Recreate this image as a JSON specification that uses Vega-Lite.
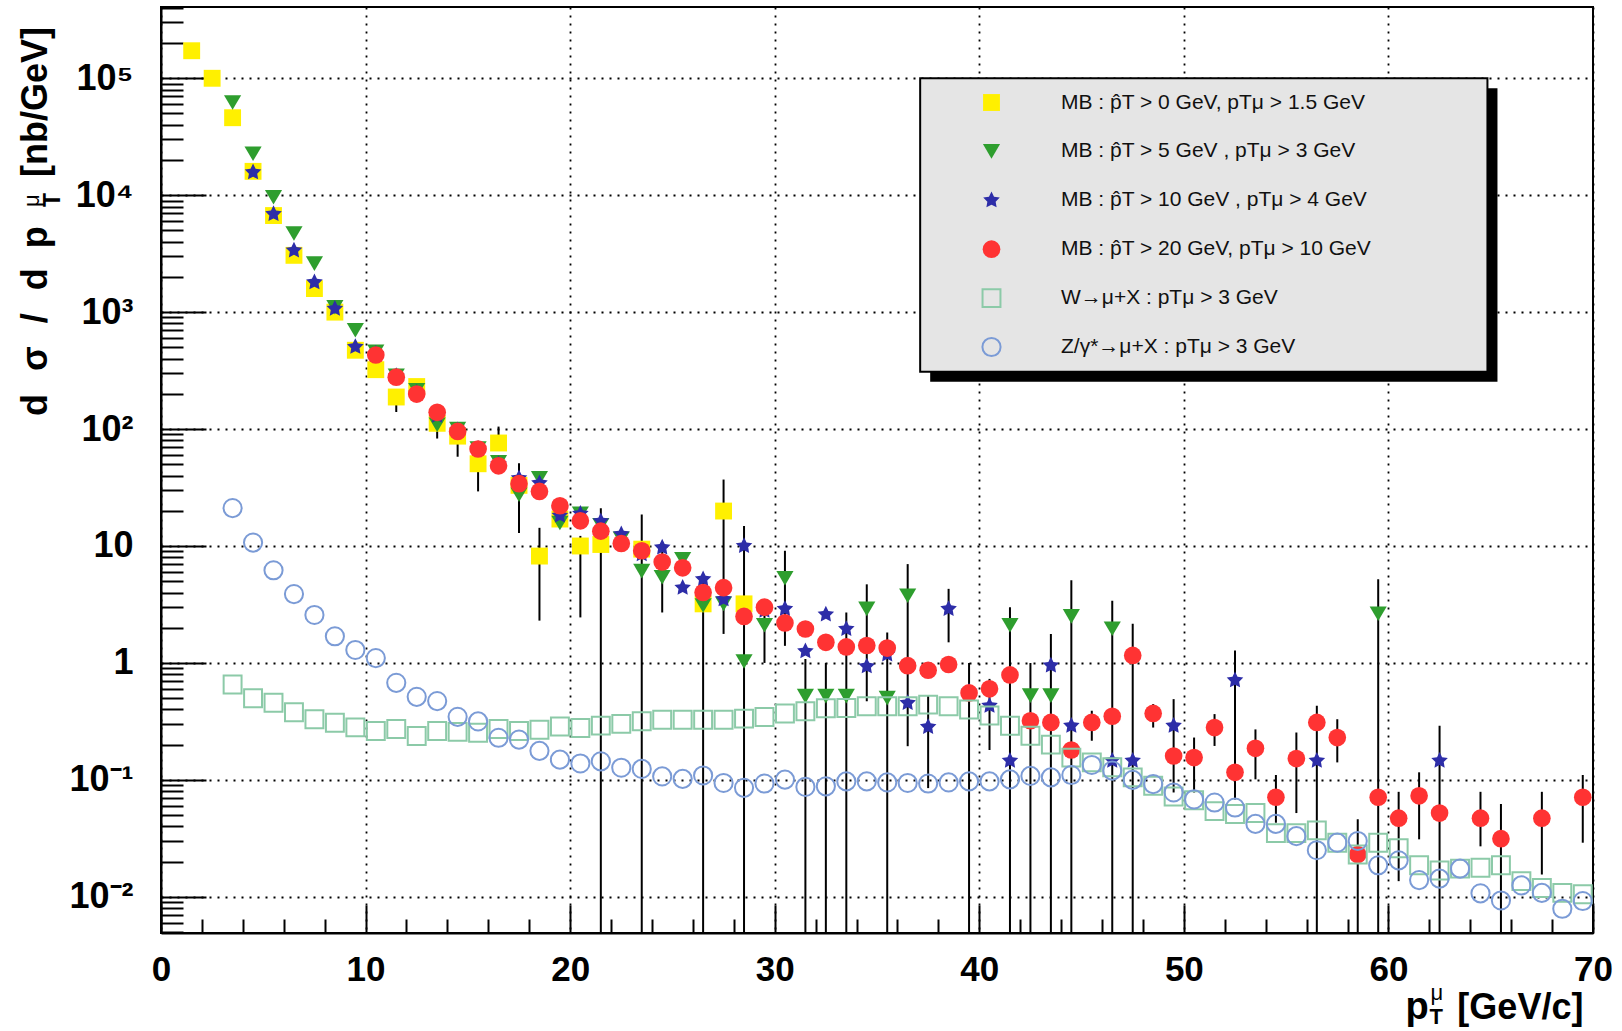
{
  "$schema": "https://vega.github.io/schema/vega-lite/v6.json",
  "width": 1432,
  "height": 926,
  "autosize": {"type": "none"},
  "padding": {"left": 161, "top": 7, "right": 29, "bottom": 98},
  "background": "white",
  "config": {
    "font": "Liberation Sans",
    "view": {"stroke": "black", "strokeWidth": 2},
    "legend": {"orient": "none", "legendX": 820, "legendY": 85, "padding": 0, "gridAlign": "all", "rowPadding": 21.9, "labelOffset": 59, "labelFont": "Liberation Sans", "labelFontSize": 21, "labelColor": "#111111", "labelLimit": 800, "symbolStrokeWidth": 2}
  },
  "datasets": {
    "pts": [
      {"s":"Y","x":1.5,"y":172000},{"s":"Y","x":2.5,"y":100000},{"s":"Y","x":3.5,"y":46000},{"s":"Y","x":4.5,"y":16000},{"s":"Y","x":5.5,"y":6700},{"s":"Y","x":6.5,"y":3060},{"s":"Y","x":7.5,"y":1590},{"s":"Y","x":8.5,"y":1000},{"s":"Y","x":9.5,"y":472},{"s":"Y","x":10.5,"y":322},{"s":"Y","x":11.5,"y":188},{"s":"Y","x":12.5,"y":231},{"s":"Y","x":13.5,"y":112},{"s":"Y","x":14.5,"y":87},{"s":"Y","x":15.5,"y":50.5},{"s":"Y","x":16.5,"y":76},{"s":"Y","x":17.5,"y":33},{"s":"Y","x":18.5,"y":8.2},{"s":"Y","x":19.5,"y":17},{"s":"Y","x":20.5,"y":10},{"s":"Y","x":21.5,"y":10.3},{"s":"Y","x":23.5,"y":9.4},{"s":"Y","x":26.5,"y":3.2},{"s":"Y","x":27.5,"y":19.9},{"s":"Y","x":28.5,"y":3.2},
      {"s":"G","x":3.5,"y":62000},{"s":"G","x":4.5,"y":22600},{"s":"G","x":5.5,"y":9600},{"s":"G","x":6.5,"y":4700},{"s":"G","x":7.5,"y":2600},{"s":"G","x":8.5,"y":1100},{"s":"G","x":9.5,"y":700},{"s":"G","x":10.5,"y":457},{"s":"G","x":11.5,"y":285},{"s":"G","x":12.5,"y":215},{"s":"G","x":13.5,"y":109},{"s":"G","x":14.5,"y":100},{"s":"G","x":15.5,"y":68},{"s":"G","x":16.5,"y":52},{"s":"G","x":17.5,"y":27.4},{"s":"G","x":18.5,"y":38},{"s":"G","x":19.5,"y":15.7},{"s":"G","x":20.5,"y":18.9},{"s":"G","x":21.5,"y":15},{"s":"G","x":22.5,"y":11.5},{"s":"G","x":23.5,"y":6.1},{"s":"G","x":24.5,"y":5.4},{"s":"G","x":25.5,"y":7.7},{"s":"G","x":26.5,"y":3.1},{"s":"G","x":27.5,"y":3.2},{"s":"G","x":28.5,"y":1.03},{"s":"G","x":29.5,"y":2.1},{"s":"G","x":30.5,"y":5.3},{"s":"G","x":31.5,"y":0.52},{"s":"G","x":32.5,"y":0.52},{"s":"G","x":33.5,"y":0.52},{"s":"G","x":34.5,"y":2.9},{"s":"G","x":35.5,"y":0.5},{"s":"G","x":36.5,"y":3.75},{"s":"G","x":41.5,"y":2.1},{"s":"G","x":42.5,"y":0.525},{"s":"G","x":43.5,"y":0.525},{"s":"G","x":44.5,"y":2.5},{"s":"G","x":46.5,"y":1.96},{"s":"G","x":59.5,"y":2.63},
      {"s":"S","x":4.5,"y":15700},{"s":"S","x":5.5,"y":6900},{"s":"S","x":6.5,"y":3370},{"s":"S","x":7.5,"y":1800},{"s":"S","x":8.5,"y":1070},{"s":"S","x":9.5,"y":505},{"s":"S","x":10.5,"y":440},{"s":"S","x":11.5,"y":285},{"s":"S","x":12.5,"y":205},{"s":"S","x":13.5,"y":130},{"s":"S","x":14.5,"y":98},{"s":"S","x":15.5,"y":68},{"s":"S","x":16.5,"y":50},{"s":"S","x":17.5,"y":38},{"s":"S","x":18.5,"y":34.5},{"s":"S","x":19.5,"y":18.2},{"s":"S","x":20.5,"y":18.9},{"s":"S","x":21.5,"y":16.3},{"s":"S","x":22.5,"y":12.6},{"s":"S","x":23.5,"y":8.5},{"s":"S","x":24.5,"y":9.7},{"s":"S","x":25.5,"y":4.4},{"s":"S","x":26.5,"y":5.2},{"s":"S","x":27.5,"y":3.5},{"s":"S","x":28.5,"y":10},{"s":"S","x":29.5,"y":2.8},{"s":"S","x":30.5,"y":2.9},{"s":"S","x":31.5,"y":1.26},{"s":"S","x":32.5,"y":2.6},{"s":"S","x":33.5,"y":1.95},{"s":"S","x":34.5,"y":0.935},{"s":"S","x":35.5,"y":1.18},{"s":"S","x":36.5,"y":0.455},{"s":"S","x":37.5,"y":0.284},{"s":"S","x":38.5,"y":2.9},{"s":"S","x":39.5,"y":0.57},{"s":"S","x":40.5,"y":0.43},{"s":"S","x":41.5,"y":0.146},{"s":"S","x":43.5,"y":0.95},{"s":"S","x":44.5,"y":0.29},{"s":"S","x":46.5,"y":0.146},{"s":"S","x":47.5,"y":0.146},{"s":"S","x":49.5,"y":0.29},{"s":"S","x":52.5,"y":0.71},{"s":"S","x":56.5,"y":0.146},{"s":"S","x":62.5,"y":0.146},
      {"s":"R","x":10.5,"y":430},{"s":"R","x":11.5,"y":278},{"s":"R","x":12.5,"y":199},{"s":"R","x":13.5,"y":139},{"s":"R","x":14.5,"y":95.5},{"s":"R","x":15.5,"y":67.5},{"s":"R","x":16.5,"y":48.5},{"s":"R","x":17.5,"y":34.1},{"s":"R","x":18.5,"y":29.3},{"s":"R","x":19.5,"y":22.1},{"s":"R","x":20.5,"y":16.4},{"s":"R","x":21.5,"y":13.4},{"s":"R","x":22.5,"y":10.5},{"s":"R","x":23.5,"y":9.1},{"s":"R","x":24.5,"y":7.3},{"s":"R","x":25.5,"y":6.5},{"s":"R","x":26.5,"y":4.0},{"s":"R","x":27.5,"y":4.4},{"s":"R","x":28.5,"y":2.5},{"s":"R","x":29.5,"y":3.0},{"s":"R","x":30.5,"y":2.2},{"s":"R","x":31.5,"y":1.95},{"s":"R","x":32.5,"y":1.5},{"s":"R","x":33.5,"y":1.37},{"s":"R","x":34.5,"y":1.41},{"s":"R","x":35.5,"y":1.34},{"s":"R","x":36.5,"y":0.948},{"s":"R","x":37.5,"y":0.865},{"s":"R","x":38.5,"y":0.97},{"s":"R","x":39.5,"y":0.554},{"s":"R","x":40.5,"y":0.6},{"s":"R","x":41.5,"y":0.79},{"s":"R","x":42.5,"y":0.32},{"s":"R","x":43.5,"y":0.31},{"s":"R","x":44.5,"y":0.18},{"s":"R","x":45.5,"y":0.31},{"s":"R","x":46.5,"y":0.35},{"s":"R","x":47.5,"y":1.16},{"s":"R","x":48.5,"y":0.37},{"s":"R","x":49.5,"y":0.16},{"s":"R","x":50.5,"y":0.155},{"s":"R","x":51.5,"y":0.28},{"s":"R","x":52.5,"y":0.116},{"s":"R","x":53.5,"y":0.186},{"s":"R","x":54.5,"y":0.071},{"s":"R","x":55.5,"y":0.152},{"s":"R","x":56.5,"y":0.31},{"s":"R","x":57.5,"y":0.23},{"s":"R","x":58.5,"y":0.023},{"s":"R","x":59.5,"y":0.071},{"s":"R","x":60.5,"y":0.047},{"s":"R","x":61.5,"y":0.073},{"s":"R","x":62.5,"y":0.052},{"s":"R","x":64.5,"y":0.047},{"s":"R","x":65.5,"y":0.0314},{"s":"R","x":67.5,"y":0.047},{"s":"R","x":69.5,"y":0.071},
      {"s":"W","x":3.5,"y":0.653},{"s":"W","x":4.5,"y":0.499},{"s":"W","x":5.5,"y":0.456},{"s":"W","x":6.5,"y":0.378},{"s":"W","x":7.5,"y":0.33},{"s":"W","x":8.5,"y":0.308},{"s":"W","x":9.5,"y":0.281},{"s":"W","x":10.5,"y":0.262},{"s":"W","x":11.5,"y":0.272},{"s":"W","x":12.5,"y":0.237},{"s":"W","x":13.5,"y":0.262},{"s":"W","x":14.5,"y":0.257},{"s":"W","x":15.5,"y":0.253},{"s":"W","x":16.5,"y":0.272},{"s":"W","x":17.5,"y":0.262},{"s":"W","x":18.5,"y":0.268},{"s":"W","x":19.5,"y":0.286},{"s":"W","x":20.5,"y":0.278},{"s":"W","x":21.5,"y":0.291},{"s":"W","x":22.5,"y":0.301},{"s":"W","x":23.5,"y":0.317},{"s":"W","x":24.5,"y":0.327},{"s":"W","x":25.5,"y":0.327},{"s":"W","x":26.5,"y":0.327},{"s":"W","x":27.5,"y":0.327},{"s":"W","x":28.5,"y":0.334},{"s":"W","x":29.5,"y":0.345},{"s":"W","x":30.5,"y":0.369},{"s":"W","x":31.5,"y":0.386},{"s":"W","x":32.5,"y":0.409},{"s":"W","x":33.5,"y":0.412},{"s":"W","x":34.5,"y":0.426},{"s":"W","x":35.5,"y":0.426},{"s":"W","x":36.5,"y":0.426},{"s":"W","x":37.5,"y":0.44},{"s":"W","x":38.5,"y":0.426},{"s":"W","x":39.5,"y":0.399},{"s":"W","x":40.5,"y":0.355},{"s":"W","x":41.5,"y":0.29},{"s":"W","x":42.5,"y":0.238},{"s":"W","x":43.5,"y":0.2},{"s":"W","x":44.5,"y":0.155},{"s":"W","x":45.5,"y":0.141},{"s":"W","x":46.5,"y":0.128},{"s":"W","x":47.5,"y":0.105},{"s":"W","x":48.5,"y":0.089},{"s":"W","x":49.5,"y":0.072},{"s":"W","x":50.5,"y":0.067},{"s":"W","x":51.5,"y":0.054},{"s":"W","x":52.5,"y":0.051},{"s":"W","x":53.5,"y":0.052},{"s":"W","x":54.5,"y":0.035},{"s":"W","x":55.5,"y":0.035},{"s":"W","x":56.5,"y":0.037},{"s":"W","x":57.5,"y":0.029},{"s":"W","x":58.5,"y":0.023},{"s":"W","x":59.5,"y":0.029},{"s":"W","x":60.5,"y":0.026},{"s":"W","x":61.5,"y":0.0186},{"s":"W","x":62.5,"y":0.0168},{"s":"W","x":63.5,"y":0.0174},{"s":"W","x":64.5,"y":0.0177},{"s":"W","x":65.5,"y":0.0186},{"s":"W","x":66.5,"y":0.0136},{"s":"W","x":67.5,"y":0.0119},{"s":"W","x":68.5,"y":0.0108},{"s":"W","x":69.5,"y":0.0105},
      {"s":"Z","x":3.5,"y":21.1},{"s":"Z","x":4.5,"y":10.7},{"s":"Z","x":5.5,"y":6.2},{"s":"Z","x":6.5,"y":3.88},{"s":"Z","x":7.5,"y":2.57},{"s":"Z","x":8.5,"y":1.69},{"s":"Z","x":9.5,"y":1.29},{"s":"Z","x":10.5,"y":1.1},{"s":"Z","x":11.5,"y":0.676},{"s":"Z","x":12.5,"y":0.513},{"s":"Z","x":13.5,"y":0.472},{"s":"Z","x":14.5,"y":0.346},{"s":"Z","x":15.5,"y":0.316},{"s":"Z","x":16.5,"y":0.229},{"s":"Z","x":17.5,"y":0.221},{"s":"Z","x":18.5,"y":0.177},{"s":"Z","x":19.5,"y":0.149},{"s":"Z","x":20.5,"y":0.138},{"s":"Z","x":21.5,"y":0.144},{"s":"Z","x":22.5,"y":0.127},{"s":"Z","x":23.5,"y":0.124},{"s":"Z","x":24.5,"y":0.107},{"s":"Z","x":25.5,"y":0.102},{"s":"Z","x":26.5,"y":0.109},{"s":"Z","x":27.5,"y":0.094},{"s":"Z","x":28.5,"y":0.0855},{"s":"Z","x":29.5,"y":0.093},{"s":"Z","x":30.5,"y":0.1005},{"s":"Z","x":31.5,"y":0.087},{"s":"Z","x":32.5,"y":0.088},{"s":"Z","x":33.5,"y":0.097},{"s":"Z","x":34.5,"y":0.097},{"s":"Z","x":35.5,"y":0.095},{"s":"Z","x":36.5,"y":0.094},{"s":"Z","x":37.5,"y":0.093},{"s":"Z","x":38.5,"y":0.095},{"s":"Z","x":39.5,"y":0.097},{"s":"Z","x":40.5,"y":0.097},{"s":"Z","x":41.5,"y":0.101},{"s":"Z","x":42.5,"y":0.108},{"s":"Z","x":43.5,"y":0.105},{"s":"Z","x":44.5,"y":0.11},{"s":"Z","x":45.5,"y":0.134},{"s":"Z","x":46.5,"y":0.12},{"s":"Z","x":47.5,"y":0.1},{"s":"Z","x":48.5,"y":0.092},{"s":"Z","x":49.5,"y":0.078},{"s":"Z","x":50.5,"y":0.068},{"s":"Z","x":51.5,"y":0.064},{"s":"Z","x":52.5,"y":0.058},{"s":"Z","x":53.5,"y":0.042},{"s":"Z","x":54.5,"y":0.042},{"s":"Z","x":55.5,"y":0.033},{"s":"Z","x":56.5,"y":0.025},{"s":"Z","x":57.5,"y":0.029},{"s":"Z","x":58.5,"y":0.03},{"s":"Z","x":59.5,"y":0.0186},{"s":"Z","x":60.5,"y":0.0205},{"s":"Z","x":61.5,"y":0.0139},{"s":"Z","x":62.5,"y":0.0143},{"s":"Z","x":63.5,"y":0.0174},{"s":"Z","x":64.5,"y":0.0107},{"s":"Z","x":65.5,"y":0.0093},{"s":"Z","x":66.5,"y":0.0125},{"s":"Z","x":67.5,"y":0.0108},{"s":"Z","x":68.5,"y":0.0079},{"s":"Z","x":69.5,"y":0.0092}
    ],
    "err": [
      {"x":11.5,"lo":140,"hi":188},{"x":13.5,"lo":83,"hi":130},{"x":14.5,"lo":58,"hi":81},{"x":15.5,"lo":29.3,"hi":44.7},{"x":16.5,"lo":76,"hi":105},{"x":17.5,"lo":12.9,"hi":51},{"x":18.5,"lo":2.3,"hi":14.3},{"x":20.5,"lo":2.45,"hi":12.2},{"x":21.5,"lo":0.0001,"hi":21},{"x":23.5,"lo":0.0001,"hi":18.6},{"x":24.5,"lo":2.7,"hi":10},{"x":26.5,"lo":0.0001,"hi":4.9},{"x":27.5,"lo":1.77,"hi":37},{"x":28.5,"lo":0.0001,"hi":14.8},{"x":29.5,"lo":1.0,"hi":2.9},{"x":30.5,"lo":1.4,"hi":9.1},{"x":31.5,"lo":0.0001,"hi":1.08},{"x":32.5,"lo":0.0001,"hi":1.0},{"x":33.5,"lo":0.0001,"hi":2.7},{"x":34.5,"lo":0.47,"hi":4.7},{"x":35.5,"lo":0.0001,"hi":1.82},{"x":36.5,"lo":0.194,"hi":7.0},{"x":37.5,"lo":0.085,"hi":0.53},{"x":38.5,"lo":1.5,"hi":4.3},{"x":39.5,"lo":0.0001,"hi":1.0},{"x":40.5,"lo":0.18,"hi":0.73},{"x":41.5,"lo":0.0001,"hi":3.0},{"x":42.5,"lo":0.0001,"hi":1.0},{"x":43.5,"lo":0.0001,"hi":1.77},{"x":44.5,"lo":0.0001,"hi":5.1},{"x":45.5,"lo":0.216,"hi":0.39},{"x":46.5,"lo":0.0001,"hi":3.4},{"x":47.5,"lo":0.0001,"hi":2.16},{"x":48.5,"lo":0.28,"hi":0.445},{"x":49.5,"lo":0.078,"hi":0.49},{"x":50.5,"lo":0.078,"hi":0.23},{"x":51.5,"lo":0.195,"hi":0.365},{"x":52.5,"lo":0.068,"hi":1.28},{"x":53.5,"lo":0.101,"hi":0.27},{"x":54.5,"lo":0.043,"hi":0.11},{"x":55.5,"lo":0.052,"hi":0.254},{"x":56.5,"lo":0.0001,"hi":0.43},{"x":57.5,"lo":0.141,"hi":0.33},{"x":58.5,"lo":0.0001,"hi":0.046},{"x":59.5,"lo":0.0001,"hi":5.2},{"x":60.5,"lo":0.0136,"hi":0.079},{"x":61.5,"lo":0.031,"hi":0.116},{"x":62.5,"lo":0.0001,"hi":0.29},{"x":64.5,"lo":0.027,"hi":0.079},{"x":65.5,"lo":0.0001,"hi":0.062},{"x":67.5,"lo":0.0155,"hi":0.079},{"x":69.5,"lo":0.029,"hi":0.11}
    ]
  },
  "layer": [
    {
      "data": {"name": "err"},
      "mark": {"type": "rule", "color": "black", "strokeWidth": 2, "clip": true},
      "encoding": {
        "x": {"field": "x", "type": "quantitative", "scale": {"domain": [0, 70], "nice": false, "zero": false},
          "axis": {"title": null, "values": [0,2,4,6,8,10,12,14,16,18,20,22,24,26,28,30,32,34,36,38,40,42,44,46,48,50,52,54,56,58,60,62,64,66,68,70],
            "labelExpr": "datum.value % 10 == 0 ? datum.label : ''",
            "tickSize": {"condition": {"test": "datum.value % 10 == 0", "value": -28}, "value": -14},
            "grid": true, "gridOpacity": {"condition": {"test": "datum.value % 10 == 0", "value": 1}, "value": 0},
            "gridDash": [2, 6], "gridColor": "black", "gridWidth": 1.8,
            "domainColor": "black", "domainWidth": 2, "tickColor": "black", "tickWidth": 2,
            "labelFont": "Liberation Sans", "labelFontWeight": "bold", "labelFontSize": 35, "labelColor": "black",
            "labelPadding": 47, "labelBaseline": "top", "labelOverlap": false, "labelFlush": false}},
        "y": {"field": "lo", "type": "quantitative", "scale": {"type": "log", "domain": [0.0049, 407000], "nice": false},
          "axis": {"title": null, "values": [0.005,0.006,0.007,0.008,0.009,0.01,0.02,0.03,0.04,0.05,0.06,0.07,0.08,0.09,0.1,0.2,0.3,0.4,0.5,0.6,0.7,0.8,0.9,1,2,3,4,5,6,7,8,9,10,20,30,40,50,60,70,80,90,100,200,300,400,500,600,700,800,900,1000,2000,3000,4000,5000,6000,7000,8000,9000,10000,20000,30000,40000,50000,60000,70000,80000,90000,100000,200000,300000,400000],
            "labelExpr": "abs(log(datum.value)/LN10 - round(log(datum.value)/LN10)) < 0.001 ? (round(log(datum.value)/LN10) == 0 ? '1' : round(log(datum.value)/LN10) == 1 ? '10' : round(log(datum.value)/LN10) == 2 ? '10²' : round(log(datum.value)/LN10) == 3 ? '10³' : round(log(datum.value)/LN10) == 4 ? '10⁴' : round(log(datum.value)/LN10) == 5 ? '10⁵' : round(log(datum.value)/LN10) == -1 ? '10⁻¹' : '10⁻²') : ''",
            "tickSize": {"condition": {"test": "abs(log(datum.value)/LN10 - round(log(datum.value)/LN10)) < 0.001", "value": -45}, "value": -22},
            "grid": true, "gridOpacity": {"condition": {"test": "abs(log(datum.value)/LN10 - round(log(datum.value)/LN10)) < 0.001", "value": 1}, "value": 0},
            "gridDash": [2, 6], "gridColor": "black", "gridWidth": 1.8,
            "domainColor": "black", "domainWidth": 2, "tickColor": "black", "tickWidth": 2,
            "labelFont": "Liberation Sans", "labelFontWeight": "bold", "labelFontSize": 36, "labelColor": "black",
            "labelPadding": 73, "labelOverlap": false, "labelFlush": false}},
        "y2": {"field": "hi"}
      }
    },
    {
      "data": {"values": [{}]},
      "mark": {"type": "rect", "color": "black"},
      "encoding": {
        "x": {"datum": 37.6, "type": "quantitative", "scale": {"domain": [0, 70], "nice": false, "zero": false}},
        "x2": {"datum": 65.33},
        "y": {"datum": 82130, "type": "quantitative", "scale": {"type": "log", "domain": [0.0049, 407000], "nice": false}},
        "y2": {"datum": 254}
      }
    },
    {
      "data": {"values": [{}]},
      "mark": {"type": "rect", "fill": "#e5e5e5", "stroke": "black", "strokeWidth": 2},
      "encoding": {
        "x": {"datum": 37.11, "type": "quantitative", "scale": {"domain": [0, 70], "nice": false, "zero": false}},
        "x2": {"datum": 64.84},
        "y": {"datum": 100000, "type": "quantitative", "scale": {"type": "log", "domain": [0.0049, 407000], "nice": false}},
        "y2": {"datum": 309.7}
      }
    },
    {
      "data": {"name": "pts"},
      "mark": {"type": "point", "strokeWidth": 2, "opacity": 1},
      "encoding": {
        "x": {"field": "x", "type": "quantitative", "scale": {"domain": [0, 70], "nice": false, "zero": false}},
        "y": {"field": "y", "type": "quantitative", "scale": {"type": "log", "domain": [0.0049, 407000], "nice": false}},
        "fill": {"field": "s", "type": "nominal", "scale": {"domain": ["Y","G","S","R","W","Z"], "range": ["#fff000","#2e9e2e","#2d2da8","#ff3333","transparent","transparent"]},
          "legend": {"title": null, "labelExpr": "datum.label == 'Y' ? 'MB : p̂T > 0 GeV, pTμ > 1.5 GeV' : datum.label == 'G' ? 'MB : p̂T > 5 GeV , pTμ > 3 GeV' : datum.label == 'S' ? 'MB : p̂T > 10 GeV , pTμ > 4 GeV' : datum.label == 'R' ? 'MB : p̂T > 20 GeV, pTμ > 10 GeV' : datum.label == 'W' ? 'W→μ+X : pTμ > 3 GeV' : 'Z/γ*→μ+X : pTμ > 3 GeV'"}},
        "stroke": {"field": "s", "type": "nominal", "scale": {"domain": ["Y","G","S","R","W","Z"], "range": ["transparent","transparent","transparent","transparent","#8ccaa8","#7b9bd6"]},
          "legend": {"title": null, "labelExpr": "datum.label == 'Y' ? 'MB : p̂T > 0 GeV, pTμ > 1.5 GeV' : datum.label == 'G' ? 'MB : p̂T > 5 GeV , pTμ > 3 GeV' : datum.label == 'S' ? 'MB : p̂T > 10 GeV , pTμ > 4 GeV' : datum.label == 'R' ? 'MB : p̂T > 20 GeV, pTμ > 10 GeV' : datum.label == 'W' ? 'W→μ+X : pTμ > 3 GeV' : 'Z/γ*→μ+X : pTμ > 3 GeV'"}},
        "shape": {"field": "s", "type": "nominal", "scale": {"domain": ["Y","G","S","R","W","Z"], "range": ["square","M-1,-0.85L1,-0.85L0,0.85Z","M0,-1L0.29,-0.4L0.951,-0.309L0.476,0.155L0.588,0.809L0,0.5L-0.588,0.809L-0.476,0.155L-0.951,-0.309L-0.29,-0.4Z","circle","square","circle"]},
          "legend": {"title": null, "labelExpr": "datum.label == 'Y' ? 'MB : p̂T > 0 GeV, pTμ > 1.5 GeV' : datum.label == 'G' ? 'MB : p̂T > 5 GeV , pTμ > 3 GeV' : datum.label == 'S' ? 'MB : p̂T > 10 GeV , pTμ > 4 GeV' : datum.label == 'R' ? 'MB : p̂T > 20 GeV, pTμ > 10 GeV' : datum.label == 'W' ? 'W→μ+X : pTμ > 3 GeV' : 'Z/γ*→μ+X : pTμ > 3 GeV'"}},
        "size": {"field": "s", "type": "nominal", "scale": {"domain": ["Y","G","S","R","W","Z"], "range": [285, 330, 780, 300, 256, 256]},
          "legend": {"title": null, "labelExpr": "datum.label == 'Y' ? 'MB : p̂T > 0 GeV, pTμ > 1.5 GeV' : datum.label == 'G' ? 'MB : p̂T > 5 GeV , pTμ > 3 GeV' : datum.label == 'S' ? 'MB : p̂T > 10 GeV , pTμ > 4 GeV' : datum.label == 'R' ? 'MB : p̂T > 20 GeV, pTμ > 10 GeV' : datum.label == 'W' ? 'W→μ+X : pTμ > 3 GeV' : 'Z/γ*→μ+X : pTμ > 3 GeV'"}}
      }
    },
    {
      "data": {"values": [{}]},
      "mark": {"type": "text", "text": "p", "align": "left", "baseline": "alphabetic", "font": "Liberation Sans", "fontSize": 38, "fontWeight": "bold", "color": "black"},
      "encoding": {
        "x": {"datum": 60.84, "type": "quantitative", "scale": {"domain": [0, 70], "nice": false, "zero": false}},
        "y": {"datum": 0.000894, "type": "quantitative", "scale": {"type": "log", "domain": [0.0049, 407000], "nice": false}}
      }
    },
    {
      "data": {"values": [{}]},
      "mark": {"type": "text", "text": "μ", "align": "left", "baseline": "alphabetic", "font": "Liberation Sans", "fontSize": 22, "color": "black"},
      "encoding": {
        "x": {"datum": 62.06, "type": "quantitative", "scale": {"domain": [0, 70], "nice": false, "zero": false}},
        "y": {"datum": 0.0013, "type": "quantitative", "scale": {"type": "log", "domain": [0.0049, 407000], "nice": false}}
      }
    },
    {
      "data": {"values": [{}]},
      "mark": {"type": "text", "text": "T", "align": "left", "baseline": "alphabetic", "font": "Liberation Sans", "fontSize": 22, "fontWeight": "bold", "color": "black"},
      "encoding": {
        "x": {"datum": 62.01, "type": "quantitative", "scale": {"domain": [0, 70], "nice": false, "zero": false}},
        "y": {"datum": 0.000816, "type": "quantitative", "scale": {"type": "log", "domain": [0.0049, 407000], "nice": false}}
      }
    },
    {
      "data": {"values": [{}]},
      "mark": {"type": "text", "text": "[GeV/c]", "align": "left", "baseline": "alphabetic", "font": "Liberation Sans", "fontSize": 36, "fontWeight": "bold", "color": "black"},
      "encoding": {
        "x": {"datum": 63.37, "type": "quantitative", "scale": {"domain": [0, 70], "nice": false, "zero": false}},
        "y": {"datum": 0.000894, "type": "quantitative", "scale": {"type": "log", "domain": [0.0049, 407000], "nice": false}}
      }
    },
    {
      "data": {"values": [{}]},
      "mark": {"type": "text", "text": "d\u00a0\u00a0\u200aσ\u00a0\u00a0\u200a/\u00a0\u00a0\u200ad\u00a0\u00a0p", "angle": 270, "align": "left", "baseline": "alphabetic", "font": "Liberation Sans", "fontSize": 36, "fontWeight": "bold", "color": "black"},
      "encoding": {
        "x": {"datum": -5.55, "type": "quantitative", "scale": {"domain": [0, 70], "nice": false, "zero": false}},
        "y": {"datum": 129.4, "type": "quantitative", "scale": {"type": "log", "domain": [0.0049, 407000], "nice": false}}
      }
    },
    {
      "data": {"values": [{}]},
      "mark": {"type": "text", "text": "μ", "angle": 270, "align": "left", "baseline": "alphabetic", "font": "Liberation Sans", "fontSize": 22, "color": "black"},
      "encoding": {
        "x": {"datum": -5.94, "type": "quantitative", "scale": {"domain": [0, 70], "nice": false, "zero": false}},
        "y": {"datum": 7943, "type": "quantitative", "scale": {"type": "log", "domain": [0.0049, 407000], "nice": false}}
      }
    },
    {
      "data": {"values": [{}]},
      "mark": {"type": "text", "text": "T", "angle": 270, "align": "left", "baseline": "alphabetic", "font": "Liberation Sans", "fontSize": 23, "fontWeight": "bold", "color": "black"},
      "encoding": {
        "x": {"datum": -4.96, "type": "quantitative", "scale": {"domain": [0, 70], "nice": false, "zero": false}},
        "y": {"datum": 7943, "type": "quantitative", "scale": {"type": "log", "domain": [0.0049, 407000], "nice": false}}
      }
    },
    {
      "data": {"values": [{}]},
      "mark": {"type": "text", "text": "[nb/GeV]", "angle": 270, "align": "left", "baseline": "alphabetic", "font": "Liberation Sans", "fontSize": 36, "fontWeight": "bold", "color": "black"},
      "encoding": {
        "x": {"datum": -5.55, "type": "quantitative", "scale": {"domain": [0, 70], "nice": false, "zero": false}},
        "y": {"datum": 14320, "type": "quantitative", "scale": {"type": "log", "domain": [0.0049, 407000], "nice": false}}
      }
    }
  ]
}
